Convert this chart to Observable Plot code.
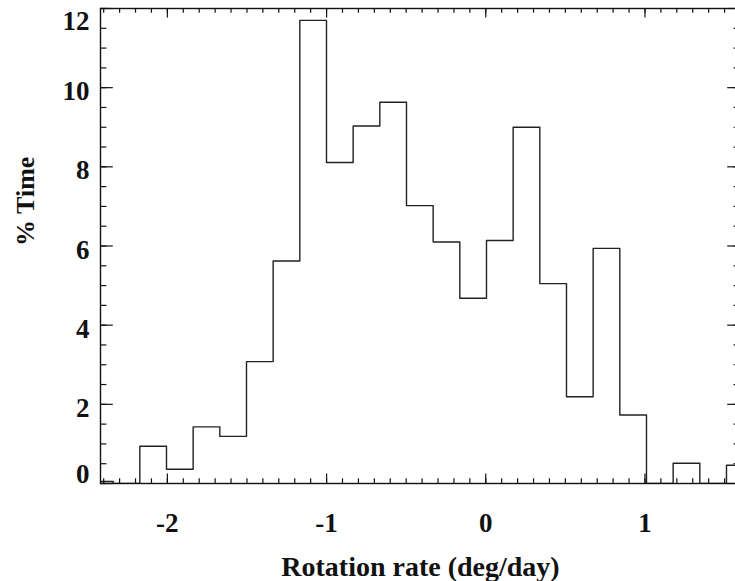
<!DOCTYPE html>
<html>
<head>
<meta charset="utf-8">
<script src="https://cdn.jsdelivr.net/npm/d3@7"></script>
<script src="https://cdn.jsdelivr.net/npm/@observablehq/plot@0.6"></script>
<style>
  html, body { margin: 0; padding: 0; background: #fff; overflow: hidden; }
  #chart { width: 735px; height: 581px; overflow: hidden; }
  #chart svg { max-width: none !important; width: 741px; height: 581px; }
</style>
</head>
<body>
<div id="chart"></div>
<script>
// Histogram of rotation rate (deg/day): bin start, bin width and % time per bin
const binStart = -2.508;
const binWidth = 0.1675;
const percentTime = [0.05, 0, 0.94, 0.36, 1.43, 1.19, 3.08, 5.62, 11.7, 8.11, 9.03, 9.63, 7.02, 6.10, 4.68, 6.14, 9.0, 5.05, 2.19, 5.94, 1.73, 0, 0.51, 0, 0.46];

const xDomain = [-2.42, 1.6];
const yDomain = [0, 12];
const xMajorTicks = [-2, -1, 0, 1];
const xMinorTicks = d3.range(-24, 17).map(i => i / 10);
const yMajorTicks = [0, 2, 4, 6, 8, 10, 12];
const yMinorTicks = d3.range(0, 25).map(i => i / 2);
const xLabel = "Rotation rate (deg/day)";
const yLabel = "% Time";

// step-line points (bin edges)
const steps = percentTime.map((v, i) => ({x: binStart + i * binWidth, y: v}));
steps.push({x: binStart + percentTime.length * binWidth, y: percentTime[percentTime.length - 1]});

const width = 741, height = 581;
const mL = 100, mR = 1, mT = 8, mB = 98;
const plotW = width - mL - mR, plotH = height - mT - mB;
const xMajLen = 9.5, xMinLen = 4.7, yMajLen = 12.8, yMinLen = 6.4;
const font = "'Liberation Serif', 'Times New Roman', serif";
const ink = "#111";

const chart = Plot.plot({
  width, height,
  marginLeft: mL, marginRight: mR, marginTop: mT, marginBottom: mB,
  x: {domain: xDomain, axis: null},
  y: {domain: yDomain, axis: null},
  style: {fontFamily: font, background: "#fff", maxWidth: "none"},
  marks: [
    Plot.line(steps, {x: "x", y: "y", curve: "step-after", stroke: "#222", strokeWidth: 1.4, clip: "frame"}),
    Plot.frame({stroke: ink, strokeWidth: 1.4}),
    // bottom ticks
    Plot.tickX(xMinorTicks, {x: d => d, insetTop: plotH - xMinLen, stroke: ink, strokeWidth: 1.2}),
    Plot.tickX(xMajorTicks, {x: d => d, insetTop: plotH - xMajLen, stroke: ink, strokeWidth: 1.2}),
    // top ticks
    Plot.tickX(xMinorTicks, {x: d => d, insetBottom: plotH - xMinLen, stroke: ink, strokeWidth: 1.2}),
    Plot.tickX(xMajorTicks, {x: d => d, insetBottom: plotH - xMajLen, stroke: ink, strokeWidth: 1.2}),
    // left ticks
    Plot.tickY(yMinorTicks, {y: d => d, insetRight: plotW - yMinLen, stroke: ink, strokeWidth: 1.2}),
    Plot.tickY(yMajorTicks, {y: d => d, insetRight: plotW - yMajLen, stroke: ink, strokeWidth: 1.2}),
    // right ticks
    Plot.tickY(yMinorTicks, {y: d => d, insetLeft: plotW - yMinLen, stroke: ink, strokeWidth: 1.2}),
    Plot.tickY(yMajorTicks, {y: d => d, insetLeft: plotW - yMajLen, stroke: ink, strokeWidth: 1.2}),
    // x tick labels
    Plot.text(xMajorTicks, {x: d => d, frameAnchor: "bottom", dy: 40, text: d => String(d),
      fontSize: 27, fontWeight: "bold", fill: ink, lineAnchor: "middle"}),
    // y tick labels (IDL shifts the end labels inward)
    Plot.text(yMajorTicks.filter(v => v > yDomain[0] && v < yDomain[1]), {y: d => d, frameAnchor: "left", dx: -11, dy: 4,
      text: d => String(d), textAnchor: "end", fontSize: 27, fontWeight: "bold", fill: ink, lineAnchor: "middle"}),
    Plot.text(yMajorTicks.filter(v => v === yDomain[0]), {y: d => d, frameAnchor: "left", dx: -11, dy: -9,
      text: d => String(d), textAnchor: "end", fontSize: 27, fontWeight: "bold", fill: ink, lineAnchor: "middle"}),
    Plot.text(yMajorTicks.filter(v => v === yDomain[1]), {y: d => d, frameAnchor: "left", dx: -11, dy: 13,
      text: d => String(d), textAnchor: "end", fontSize: 27, fontWeight: "bold", fill: ink, lineAnchor: "middle"}),
    // axis titles
    Plot.text([xLabel], {frameAnchor: "bottom", dy: 84, text: d => d, fontSize: 28, fontWeight: "bold", fill: ink, lineAnchor: "middle"}),
    Plot.text([yLabel], {frameAnchor: "left", dx: -75, text: d => d, rotate: -90, fontSize: 26, fontWeight: "bold", fill: ink, lineAnchor: "middle"})
  ]
});
document.getElementById("chart").appendChild(chart);
</script>
</body>
</html>
